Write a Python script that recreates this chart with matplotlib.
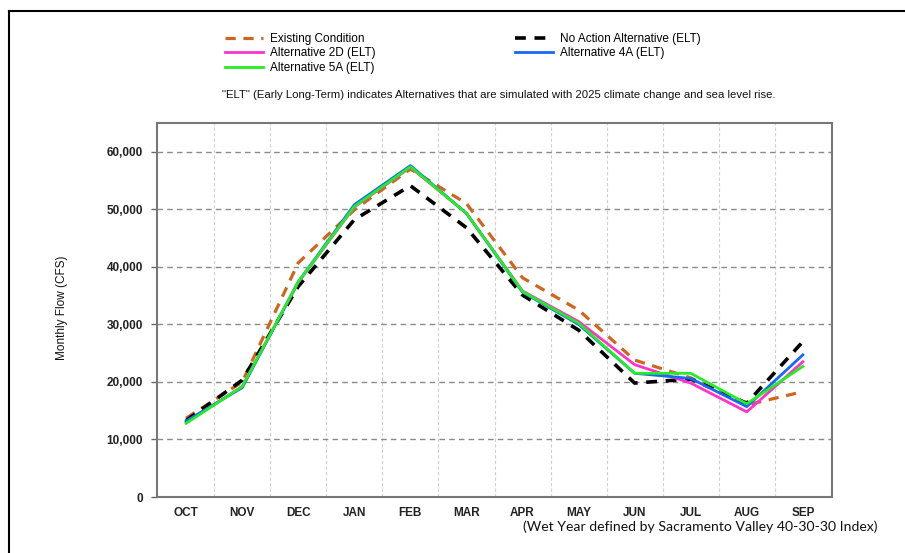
import matplotlib.pyplot as plt
from matplotlib.lines import Line2D
from matplotlib.ticker import FuncFormatter

plt.rcParams['font.family'] = ['Liberation Sans', 'DejaVu Sans']

# 月とシナリオごとの月平均流量 (CFS)
months = ["OCT", "NOV", "DEC", "JAN", "FEB", "MAR", "APR", "MAY", "JUN", "JUL", "AUG", "SEP"]
existing = [13700, 20000, 40700, 49900, 57000, 51000, 38100, 32500, 23800, 20700, 16000, 18300]
no_action = [13300, 20300, 36600, 48200, 54100, 46800, 35100, 29000, 19800, 20500, 16300, 27000]
alt_2d = [13000, 19200, 37300, 50400, 57300, 49300, 35800, 30500, 23000, 19800, 14800, 23500]
alt_4a = [13200, 19000, 37400, 50800, 57600, 49300, 35600, 30000, 21500, 20600, 15700, 24700]
alt_5a = [12800, 19200, 37400, 50500, 57400, 49300, 35700, 30200, 21500, 21500, 16200, 22700]

fig = plt.figure(figsize=(9.05, 5.53), dpi=100)
ax = fig.add_axes([157 / 905, 1 - 497 / 553, 675 / 905, 374 / 553])

x = list(range(len(months)))
ax.plot(x, existing, color='#D0661E', lw=2.3, dashes=(3.2, 2.4), label='Existing Condition', zorder=3)
ax.plot(x, no_action, color='black', lw=2.6, dashes=(3.0, 2.4), label='No Action Alternative (ELT)', zorder=3)
ax.plot(x, alt_2d, color='#FF33CC', lw=2, label='Alternative 2D (ELT)', zorder=4)
ax.plot(x, alt_4a, color='#1A66FF', lw=2, label='Alternative 4A (ELT)', zorder=4)
ax.plot(x, alt_5a, color='#22EE22', lw=2, label='Alternative 5A (ELT)', zorder=5)

# 軸の設定
ax.set_xlim(-0.52, 11.52)
ax.set_ylim(0, 65000)
ax.set_xticks(x)
ax.set_xticklabels(months)
ax.set_xticks([i + 0.5 for i in range(11)], minor=True)
ax.set_yticks(range(0, 60001, 10000))
ax.yaxis.set_major_formatter(FuncFormatter(lambda v, p: f"{int(v):,}"))
ax.tick_params(axis='x', which='both', length=0, pad=7, labelsize=8.5, labelcolor='#222222')
ax.tick_params(axis='y', length=4, width=1, color='#666666', pad=6, labelsize=8.5, labelcolor='#222222')
for lab in ax.get_xticklabels() + ax.get_yticklabels():
    lab.set_fontweight('bold')

ax.grid(axis='y', which='major', color='#8a8a8a', lw=1, dashes=(4, 3))
ax.grid(axis='x', which='minor', color='#d0d0d0', lw=0.8, dashes=(3, 2))
ax.set_axisbelow(True)
for s in ax.spines.values():
    s.set_color('#777777')
    s.set_linewidth(1.5)

ax.set_ylabel('Monthly Flow (CFS)', fontsize=8.5, color='#111111')
ax.yaxis.set_label_coords(-0.132, 0.505)

# 凡例（2列）
h, l = ax.get_legend_handles_labels()
kw = dict(frameon=False, fontsize=8.5, handlelength=3.2, handletextpad=0.6,
          labelspacing=0.2, borderpad=0, borderaxespad=0, loc='upper left')
leg1 = fig.legend([h[0], h[2], h[4]], [l[0], l[2], l[4]], bbox_to_anchor=(225 / 905, 1 - 33 / 553), **kw)
leg2 = fig.legend([h[1], h[3]], [l[1], l[3]], bbox_to_anchor=(515 / 905, 1 - 33 / 553), **kw)

fig.text(499 / 905, 1 - 95 / 553,
         '"ELT" (Early Long-Term) indicates Alternatives that are simulated with 2025 climate change and sea level rise.',
         ha='center', va='center', fontsize=8.2, color='#111111')
fig.text(877 / 905, 1 - 527 / 553, '(Wet Year defined by Sacramento Valley 40-30-30 Index)',
         ha='right', va='center', fontsize=10.1, family=['Lato', 'DejaVu Sans'], color='#111111')

# 外枠
fig.add_artist(Line2D([9 / 905, 9 / 905], [0, 1 - 11 / 553], color='black', lw=1.5))
fig.add_artist(Line2D([9 / 905, 1], [1 - 11 / 553, 1 - 11 / 553], color='black', lw=1.5))

fig.savefig('out.png', dpi=100)
